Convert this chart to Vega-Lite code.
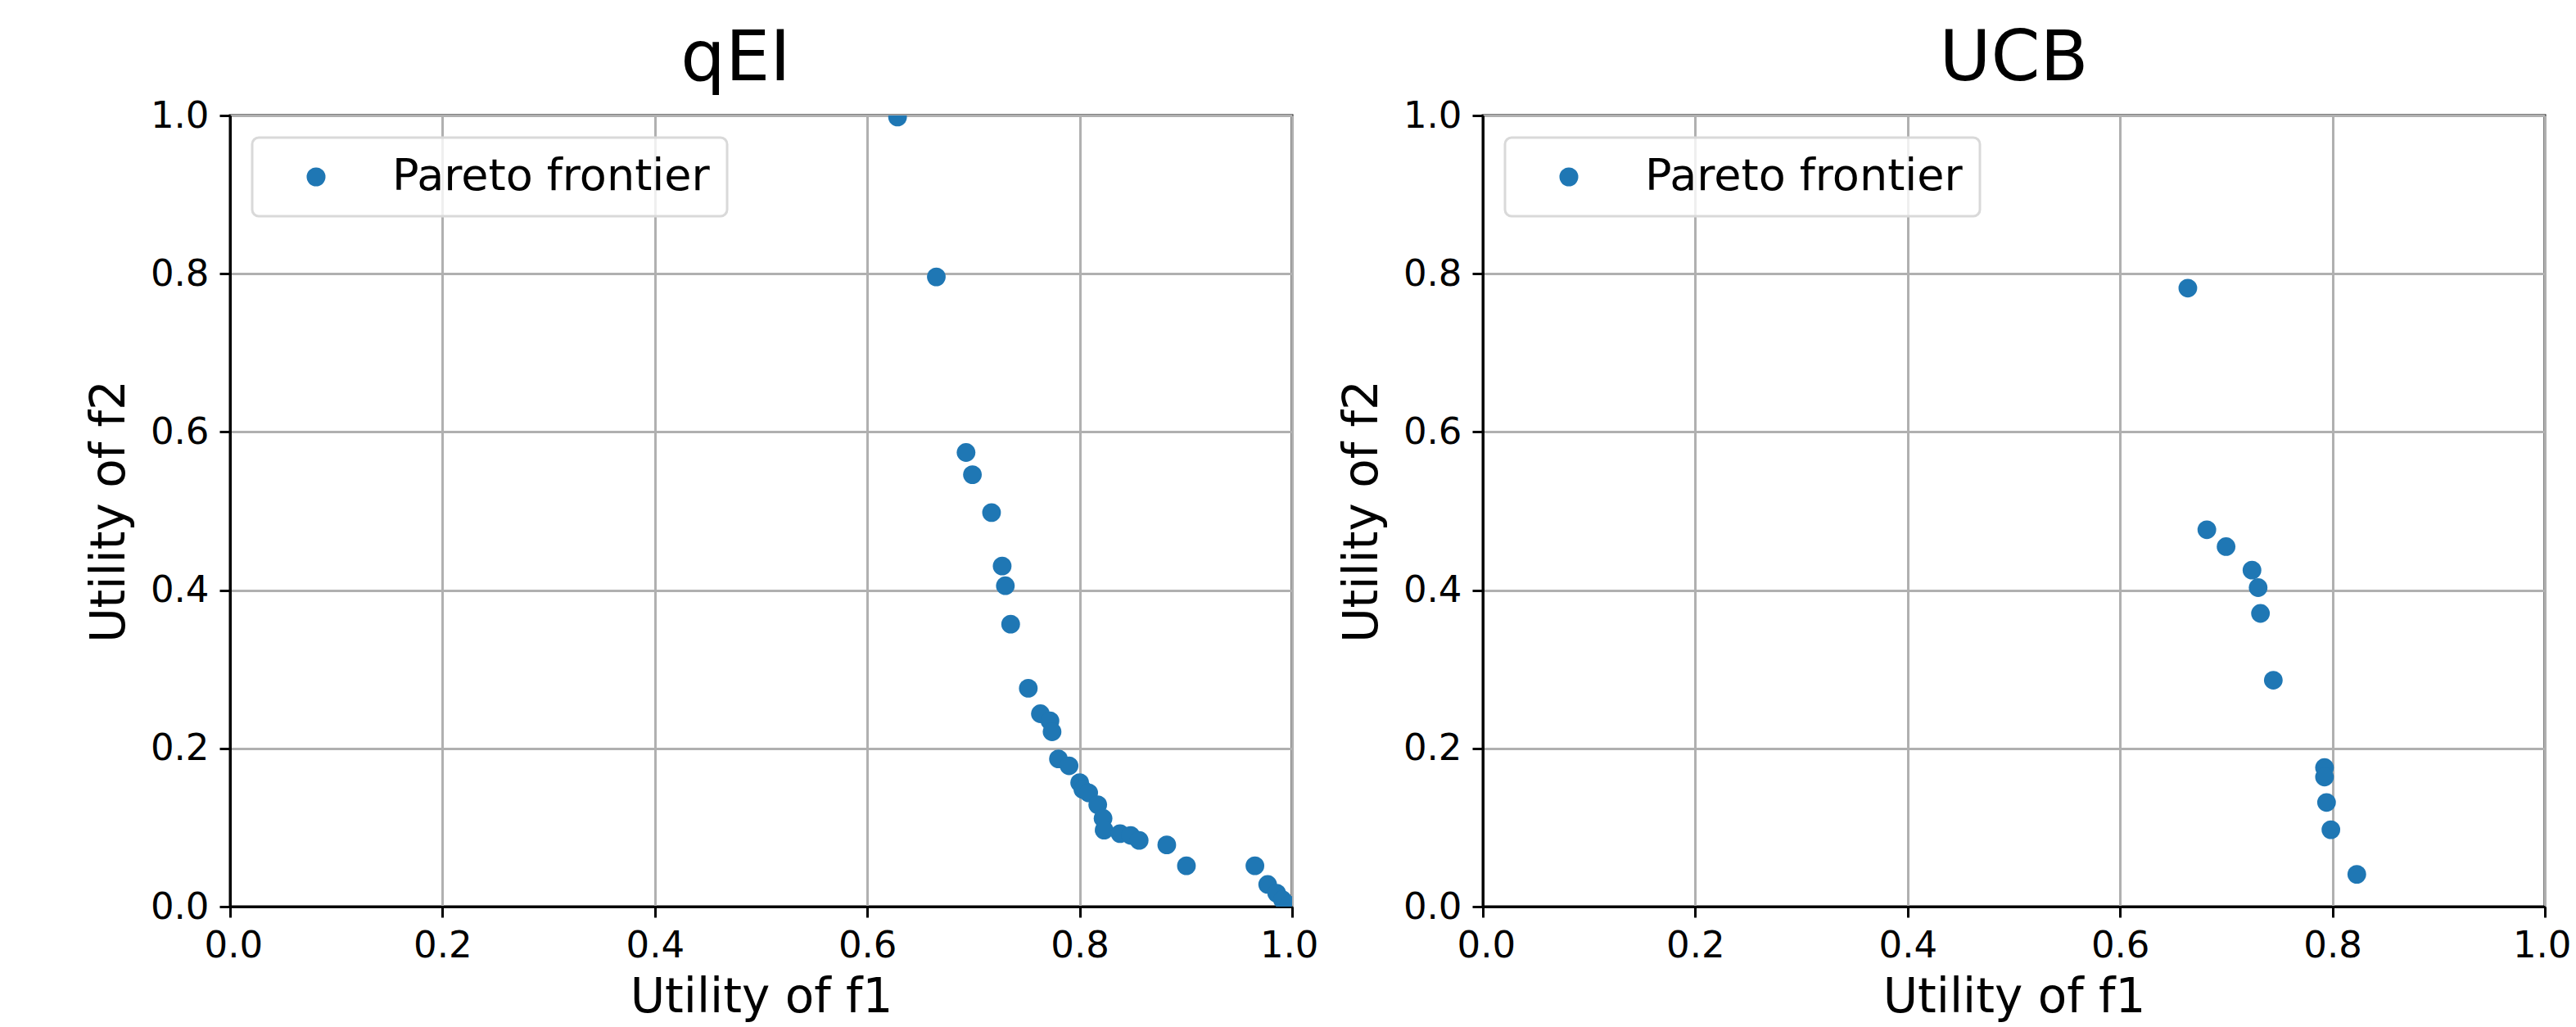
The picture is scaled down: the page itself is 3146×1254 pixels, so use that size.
{
  "$schema": "https://vega.github.io/schema/vega-lite/v6.json",
  "background": "white",
  "padding": {"left": 103, "top": 27, "right": 0, "bottom": 6},
  "config": {
    "font": "DejaVu Sans",
    "view": {"stroke": "black", "strokeWidth": 3},
    "axis": {
      "domainColor": "black", "domainWidth": 3,
      "tickColor": "black", "tickWidth": 3, "tickSize": 13,
      "gridColor": "#b0b0b0", "gridWidth": 3, "gridOpacity": 1,
      "labelFont": "DejaVu Sans", "labelFontSize": 45, "labelColor": "black",
      "titleFont": "DejaVu Sans", "titleFontSize": 58, "titleFontWeight": "normal", "titleColor": "black",
      "zindex": 1
    },
    "axisX": {"labelPadding": 12, "titlePadding": 12, "labelFlush": true, "labelFlushOffset": 32},
    "axisY": {"labelPadding": 13, "titlePadding": 20},
    "title": {"font": "DejaVu Sans", "fontSize": 86, "fontWeight": "normal", "color": "black", "offset": 3, "anchor": "middle"},
    "legend": {
      "orient": "top-left", "offset": 27, "title": null,
      "labelFont": "DejaVu Sans", "labelFontSize": 54, "labelColor": "black", "labelLimit": 0,
      "symbolType": "circle", "symbolSize": 530, "symbolOpacity": 1, "symbolStrokeWidth": 0,
      "padding": 21, "symbolOffset": 30, "labelOffset": 66,
      "strokeColor": "#d9d9d9", "strokeWidth": 3, "fillColor": "rgba(255,255,255,0.8)", "cornerRadius": 8
    }
  },
  "datasets": {
    "pts": [
      {"method": "qEI", "series": "Pareto frontier", "f1": 0.6285, "f2": 0.998},
      {"method": "qEI", "series": "Pareto frontier", "f1": 0.665, "f2": 0.796},
      {"method": "qEI", "series": "Pareto frontier", "f1": 0.693, "f2": 0.574},
      {"method": "qEI", "series": "Pareto frontier", "f1": 0.699, "f2": 0.546},
      {"method": "qEI", "series": "Pareto frontier", "f1": 0.717, "f2": 0.498},
      {"method": "qEI", "series": "Pareto frontier", "f1": 0.727, "f2": 0.4305},
      {"method": "qEI", "series": "Pareto frontier", "f1": 0.730, "f2": 0.4056},
      {"method": "qEI", "series": "Pareto frontier", "f1": 0.735, "f2": 0.357},
      {"method": "qEI", "series": "Pareto frontier", "f1": 0.7516, "f2": 0.276},
      {"method": "qEI", "series": "Pareto frontier", "f1": 0.763, "f2": 0.2438},
      {"method": "qEI", "series": "Pareto frontier", "f1": 0.772, "f2": 0.2348},
      {"method": "qEI", "series": "Pareto frontier", "f1": 0.774, "f2": 0.221},
      {"method": "qEI", "series": "Pareto frontier", "f1": 0.780, "f2": 0.1867},
      {"method": "qEI", "series": "Pareto frontier", "f1": 0.790, "f2": 0.178},
      {"method": "qEI", "series": "Pareto frontier", "f1": 0.800, "f2": 0.1567},
      {"method": "qEI", "series": "Pareto frontier", "f1": 0.803, "f2": 0.148},
      {"method": "qEI", "series": "Pareto frontier", "f1": 0.8085, "f2": 0.1438},
      {"method": "qEI", "series": "Pareto frontier", "f1": 0.817, "f2": 0.1288},
      {"method": "qEI", "series": "Pareto frontier", "f1": 0.822, "f2": 0.1116},
      {"method": "qEI", "series": "Pareto frontier", "f1": 0.823, "f2": 0.0966},
      {"method": "qEI", "series": "Pareto frontier", "f1": 0.838, "f2": 0.0923},
      {"method": "qEI", "series": "Pareto frontier", "f1": 0.848, "f2": 0.090},
      {"method": "qEI", "series": "Pareto frontier", "f1": 0.856, "f2": 0.0837},
      {"method": "qEI", "series": "Pareto frontier", "f1": 0.882, "f2": 0.078},
      {"method": "qEI", "series": "Pareto frontier", "f1": 0.9005, "f2": 0.0516},
      {"method": "qEI", "series": "Pareto frontier", "f1": 0.965, "f2": 0.0516},
      {"method": "qEI", "series": "Pareto frontier", "f1": 0.977, "f2": 0.028},
      {"method": "qEI", "series": "Pareto frontier", "f1": 0.9855, "f2": 0.017},
      {"method": "qEI", "series": "Pareto frontier", "f1": 0.991, "f2": 0.0086},
      {"method": "qEI", "series": "Pareto frontier", "f1": 0.997, "f2": 0.002},
      {"method": "UCB", "series": "Pareto frontier", "f1": 0.6638, "f2": 0.7818},
      {"method": "UCB", "series": "Pareto frontier", "f1": 0.6817, "f2": 0.4764},
      {"method": "UCB", "series": "Pareto frontier", "f1": 0.6998, "f2": 0.455},
      {"method": "UCB", "series": "Pareto frontier", "f1": 0.7242, "f2": 0.4253},
      {"method": "UCB", "series": "Pareto frontier", "f1": 0.730, "f2": 0.4032},
      {"method": "UCB", "series": "Pareto frontier", "f1": 0.7322, "f2": 0.3706},
      {"method": "UCB", "series": "Pareto frontier", "f1": 0.7443, "f2": 0.2862},
      {"method": "UCB", "series": "Pareto frontier", "f1": 0.7925, "f2": 0.1757},
      {"method": "UCB", "series": "Pareto frontier", "f1": 0.7925, "f2": 0.1638},
      {"method": "UCB", "series": "Pareto frontier", "f1": 0.7944, "f2": 0.1317},
      {"method": "UCB", "series": "Pareto frontier", "f1": 0.7985, "f2": 0.0972},
      {"method": "UCB", "series": "Pareto frontier", "f1": 0.8229, "f2": 0.0408}
    ]
  },
  "spacing": 21,
  "resolve": {"legend": {"color": "independent"}},
  "hconcat": [
    {
      "title": {"text": "qEI", "dx": -31},
      "width": 1297, "height": 966,
      "data": {"name": "pts"},
      "transform": [{"filter": "datum.method === 'qEI'"}],
      "mark": {"type": "circle", "size": 520, "opacity": 1, "clip": true},
      "encoding": {
        "x": {"field": "f1", "type": "quantitative", "scale": {"domain": [0, 1], "nice": false, "zero": false},
              "axis": {"title": "Utility of f1", "values": [0, 0.2, 0.4, 0.6, 0.8, 1.0], "format": ".1f"}},
        "y": {"field": "f2", "type": "quantitative", "scale": {"domain": [0, 1], "nice": false, "zero": false},
              "axis": {"title": "Utility of f2", "values": [0, 0.2, 0.4, 0.6, 0.8, 1.0], "format": ".1f"}},
        "color": {"field": "series", "type": "nominal", "scale": {"range": ["#1f77b4"]}, "legend": {"title": null}}
      }
    },
    {
      "title": {"text": "UCB"},
      "width": 1297, "height": 966,
      "data": {"name": "pts"},
      "transform": [{"filter": "datum.method === 'UCB'"}],
      "mark": {"type": "circle", "size": 520, "opacity": 1, "clip": true},
      "encoding": {
        "x": {"field": "f1", "type": "quantitative", "scale": {"domain": [0, 1], "nice": false, "zero": false},
              "axis": {"title": "Utility of f1", "values": [0, 0.2, 0.4, 0.6, 0.8, 1.0], "format": ".1f"}},
        "y": {"field": "f2", "type": "quantitative", "scale": {"domain": [0, 1], "nice": false, "zero": false},
              "axis": {"title": "Utility of f2", "values": [0, 0.2, 0.4, 0.6, 0.8, 1.0], "format": ".1f"}},
        "color": {"field": "series", "type": "nominal", "scale": {"range": ["#1f77b4"]}, "legend": {"title": null}}
      }
    }
  ]
}
